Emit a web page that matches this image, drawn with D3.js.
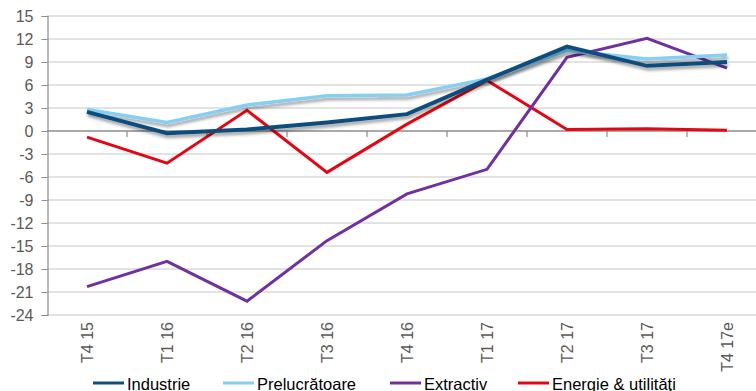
<!DOCTYPE html>
<html>
<head>
<meta charset="utf-8">
<script src="https://cdn.jsdelivr.net/npm/d3@7"></script>
<style>
  html, body { margin: 0; padding: 0; background: #fff; overflow: hidden; }
  svg { display: block; font-family: "Liberation Sans", Arial, sans-serif; }
</style>
</head>
<body>
<svg id="chart" width="756" height="391"></svg>
<script>
// Quarterly growth, %
const categories = ["T4 15", "T1 16", "T2 16", "T3 16", "T4 16", "T1 17", "T2 17", "T3 17", "T4 17e"];
const industrie     = [2.5, -0.3, 0.2, 1.1, 2.2, 6.7, 11.0, 8.5, 9.0];
const prelucratoare = [2.8, 1.1, 3.4, 4.6, 4.7, 6.8, 10.5, 9.4, 9.9];
const extractiv     = [-20.3, -17.0, -22.2, -14.3, -8.2, -5.0, 9.6, 12.1, 8.2];
const energie       = [-0.8, -4.2, 2.7, -5.4, 0.9, 6.6, 0.2, 0.3, 0.1];
const yTicks = [15, 12, 9, 6, 3, 0, -3, -6, -9, -12, -15, -18, -21, -24];

const series = [
  { name: "Energie & utilități", values: energie, color: "#E30613", width: 3, shadow: false },
  { name: "Extractiv", values: extractiv, color: "#7030A0", width: 3, shadow: false },
  { name: "Prelucrătoare", values: prelucratoare, color: "#86CFF2", width: 3.5, shadow: true },
  { name: "Industrie", values: industrie, color: "#104E7D", width: 4, shadow: true }
];
const legendOrder = ["Industrie", "Prelucrătoare", "Extractiv", "Energie & utilități"];

const svg = d3.select("#chart");
const plotLeft = 47, plotTop = 16, plotBottom = 315;

const x = d3.scaleBand().domain(categories).range([plotLeft, plotLeft + 80 * categories.length]).padding(0);
const y = d3.scaleLinear().domain([-24, 15]).range([plotBottom, plotTop]);

const defs = svg.append("defs");
const f = defs.append("filter").attr("id", "shadow")
  .attr("x", "-10%").attr("y", "-50%").attr("width", "120%").attr("height", "200%");
f.append("feDropShadow").attr("dx", 1).attr("dy", 3).attr("stdDeviation", 1.6)
  .attr("flood-color", "#000").attr("flood-opacity", 0.35);

// horizontal gridlines
svg.append("g").selectAll("line").data(yTicks.filter(d => d !== 0)).join("line")
  .attr("x1", plotLeft).attr("x2", 756)
  .attr("y1", d => y(d)).attr("y2", d => y(d))
  .attr("stroke", "#D9D9D9").attr("stroke-width", 1.5);

// y axis
const yAxis = d3.axisLeft(y).tickValues(yTicks).tickSize(6).tickPadding(8).tickFormat(d3.format("d"));
const gy = svg.append("g").attr("transform", `translate(${plotLeft + 0.5},0)`).call(yAxis);
gy.select(".domain").attr("stroke", "#8C8C8C").attr("stroke-width", 1.2);
gy.selectAll(".tick line").attr("stroke", "#8C8C8C");
gy.selectAll(".tick text").attr("fill", "#595959").attr("font-size", 16)
  .attr("font-family", "Liberation Sans, Arial, sans-serif").text(d => d < 0 ? "-" + Math.abs(d) : d);

// zero line with category separators
const boundaries = d3.range(1, categories.length).map(i => plotLeft + i * x.step());
const g0 = svg.append("g");
g0.append("line").attr("x1", plotLeft).attr("x2", 756).attr("y1", y(0)).attr("y2", y(0))
  .attr("stroke", "#8C8C8C").attr("stroke-width", 1.5);
g0.selectAll("line.sep").data(boundaries).join("line").attr("class", "sep")
  .attr("x1", d => d).attr("x2", d => d).attr("y1", y(0)).attr("y2", y(0) + 6)
  .attr("stroke", "#8C8C8C").attr("stroke-width", 1.2);

// category labels, rotated
svg.append("g").selectAll("text").data(categories).join("text")
  .attr("transform", d => `translate(${x(d) + x.bandwidth() / 2 + 6},${plotBottom + 7}) rotate(-90)`)
  .attr("text-anchor", "end").attr("font-size", 16).attr("fill", "#595959")
  .text(d => d);

// series lines
const line = d3.line().x((d, i) => x(categories[i]) + x.bandwidth() / 2).y(d => y(d));
svg.append("g").selectAll("path").data(series).join("path")
  .attr("d", d => line(d.values))
  .attr("fill", "none")
  .attr("stroke", d => d.color)
  .attr("stroke-width", d => d.width)
  .attr("stroke-linejoin", "miter")
  .attr("filter", d => d.shadow ? "url(#shadow)" : null);

// legend
const legendX = [93, 223, 390, 518];
const lg = svg.append("g").selectAll("g").data(legendOrder).join("g")
  .attr("transform", (d, i) => `translate(${legendX[i]},383)`);
lg.append("line").attr("x1", 0).attr("x2", 31).attr("y1", 0).attr("y2", 0)
  .attr("stroke", d => series.find(s => s.name === d).color).attr("stroke-width", 3);
lg.append("text").attr("x", 34).attr("y", 6.5).attr("font-size", 16.5).attr("fill", "#000").text(d => d);
</script>
</body>
</html>
